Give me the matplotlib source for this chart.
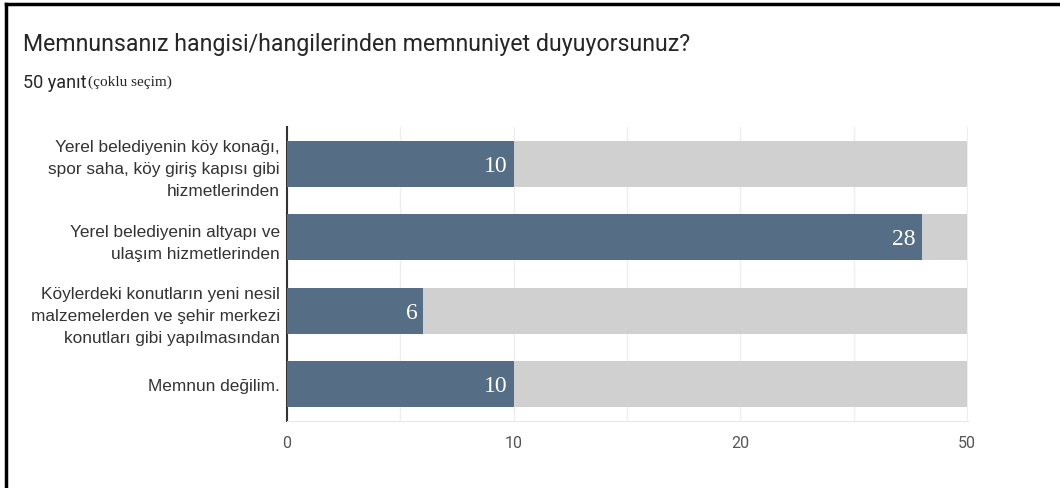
import matplotlib.pyplot as plt
from matplotlib.lines import Line2D

# Data
categories = [
    'Yerel belediyenin köy konağı,\nspor saha, köy giriş kapısı gibi\nhizmetlerinden',
    'Yerel belediyenin altyapı ve\nulaşım hizmetlerinden',
    'Köylerdeki konutların yeni nesil\nmalzemelerden ve şehir merkezi\nkonutları gibi yapılmasından',
    'Memnun değilim.',
]
counts = [10, 28, 6, 10]
scale_max = 30
tick_values = [0, 10, 20, 30]
tick_labels = ['0', '10', '20', '50']

fig = plt.figure(figsize=(10.6, 4.89), dpi=100)
ax = fig.add_axes([287 / 1060, 67 / 489, 681 / 1060, 294 / 489])

pos = list(range(len(categories)))
ax.barh(pos, [scale_max] * len(pos), height=0.63, color='#d0d0d0', zorder=2)
ax.barh(pos, counts, height=0.63, color='#566d86', zorder=3)

for p, c in zip(pos, counts):
    ax.text(c - 0.25, p + 0.02, str(c), ha='right', va='center', color='white',
            fontsize=17, family='Liberation Serif', zorder=4)

ax.set_xlim(0, scale_max + 0.05)
ax.set_ylim(3.5, -0.5)
ax.set_yticks(pos)
ax.set_yticklabels(categories, fontsize=12.4, family='Liberation Sans', color='#333333',
                   linespacing=1.58)
ax.set_xticks(tick_values)
ax.set_xticklabels(tick_labels, fontsize=11.5, family='Roboto', color='#555555')
ax.tick_params(axis='both', length=0)
ax.tick_params(axis='x', pad=10)
ax.tick_params(axis='y', pad=5)

ax.set_xticks(range(0, scale_max + 1, 5), minor=True)
ax.grid(True, axis='x', which='both', color='#eeeeee', linewidth=1, zorder=0)
ax.tick_params(axis='x', which='minor', length=0)

for s in ['top', 'right']:
    ax.spines[s].set_visible(False)
ax.spines['left'].set_color('#333333')
ax.spines['left'].set_linewidth(1.5)
ax.spines['bottom'].set_color('#e8e8e8')

fig.text(23 / 1060, 1 - 44 / 489, 'Memnunsanız hangisi/hangilerinden memnuniyet duyuyorsunuz?',
         fontsize=16.7, family='Roboto', color='#262626', va='center')
fig.text(23 / 1060, 1 - 83 / 489, '50 yanıt', fontsize=13, family='Roboto',
         color='#262626', va='center')
fig.text(88 / 1060, 1 - 82 / 489, '(çoklu seçim)', fontsize=11, family='Liberation Serif',
         color='#262626', va='center')

# black frame on the left and top
fig.add_artist(Line2D([6 / 1060, 6 / 1060], [0, 1 - 5 / 489], color='black', linewidth=2.5,
                      transform=fig.transFigure))
fig.add_artist(Line2D([6 / 1060, 1], [1 - 5 / 489, 1 - 5 / 489], color='black', linewidth=2.5,
                      transform=fig.transFigure))

fig.savefig('out.png', dpi=100)
